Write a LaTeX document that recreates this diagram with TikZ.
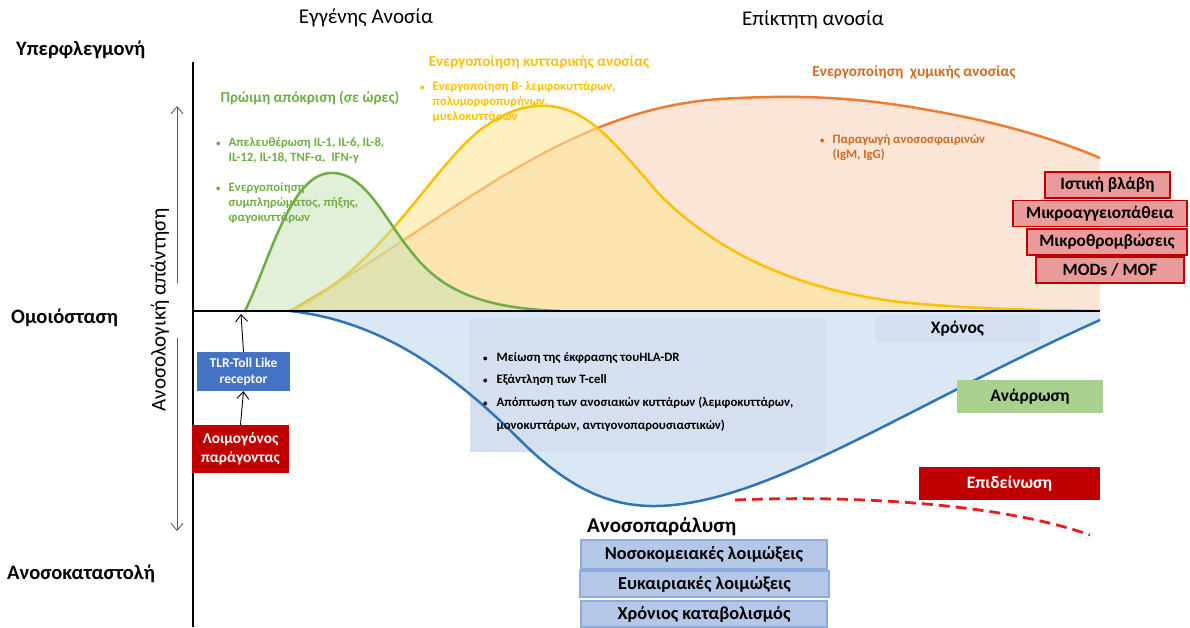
\documentclass[tikz,border=0pt]{standalone}
\usepackage{fontspec}
\setmainfont{Carlito}
\usetikzlibrary{positioning,arrows.meta}
\definecolor{grline}{HTML}{70AD47}
\definecolor{grfill}{HTML}{C5E0B4}
\definecolor{yeline}{HTML}{FFC000}
\definecolor{yefill}{HTML}{FFE699}
\definecolor{orline}{HTML}{ED7D31}
\definecolor{ortext}{HTML}{D06A22}
\definecolor{orfill}{HTML}{FBE5D6}
\definecolor{blline}{HTML}{2E75B6}
\definecolor{blfill}{HTML}{DAE8F5}
\definecolor{blbox}{HTML}{D6DFF0}
\definecolor{darkred}{HTML}{C00000}
\definecolor{salmon}{HTML}{E99A9A}
\definecolor{tlrblue}{HTML}{4472C4}
\definecolor{infbox}{HTML}{B4C7E7}
\definecolor{infline}{HTML}{8FAADC}
\definecolor{recgreen}{HTML}{A9D18E}
\definecolor{dashred}{HTML}{E3201B}
\newcommand{\bu}{{\fontsize{9}{9}\selectfont•}}

\begin{document}
\begin{tikzpicture}[
  x=1pt, y=-1pt,
  axlab/.style={font=\bfseries\fontsize{20.5}{22}\selectfont, anchor=west, inner sep=0pt},
  title/.style={font=\fontsize{21}{23}\selectfont, inner sep=0pt},
  header/.style={font=\bfseries\fontsize{15.2}{17}\selectfont, inner sep=0pt},
  bul/.style={font=\bfseries\fontsize{12.7}{15}\selectfont, anchor=north west,
              inner sep=0pt, align=left},
  dmgbox/.style={draw=darkred, line width=1.8pt, fill=salmon, inner sep=0pt,
                 minimum height=26pt, font=\bfseries\fontsize{17.3}{19}\selectfont},
  infbox/.style={draw=infline, line width=1.5pt, fill=infbox, inner sep=0pt,
                 minimum width=246pt, font=\bfseries\fontsize{18.3}{20}\selectfont},
  flatbox/.style={inner sep=0pt, font=\bfseries\fontsize{17.5}{19}\selectfont},
  axis/.style={line width=2.5pt, black},
  barb/.style={-{Straight Barb[length=7pt,width=12pt]}, line width=0.9pt}
]
\useasboundingbox (0,0) rectangle (1190,627);

% orange: humoral response
\fill[orfill] (290,311) .. controls (450,220) and (560,110) .. (720,99)
  .. controls (820,93) and (880,100) .. (960,116)
  .. controls (1020,128) and (1070,145) .. (1100,158) -- (1100,311) -- cycle;
\draw[orline, line width=2.5pt] (290,311) .. controls (450,220) and (560,110) .. (720,99)
  .. controls (820,93) and (880,100) .. (960,116)
  .. controls (1020,128) and (1070,145) .. (1100,158);

% yellow: cellular response
\fill[yefill, opacity=0.6] (290,311) .. controls (380,270) and (430,170) .. (480,130)
  .. controls (510,108) and (530,105) .. (548,106)
  .. controls (590,108) and (620,150) .. (660,195)
  .. controls (720,255) and (800,290) .. (900,302)
  .. controls (980,310) and (1050,310) .. (1100,311) -- cycle;
\draw[yeline, line width=2.5pt] (290,311) .. controls (380,270) and (430,170) .. (480,130)
  .. controls (510,108) and (530,105) .. (548,106)
  .. controls (590,108) and (620,150) .. (660,195)
  .. controls (720,255) and (800,290) .. (900,302)
  .. controls (980,310) and (1050,310) .. (1100,311);

% green: early response
\fill[grfill, opacity=0.5] (245,311) .. controls (270,260) and (290,175) .. (330,173)
  .. controls (365,171) and (385,220) .. (410,250)
  .. controls (440,290) and (480,308) .. (560,311) -- cycle;
\draw[grline, line width=2.5pt] (245,311) .. controls (270,260) and (290,175) .. (330,173)
  .. controls (365,171) and (385,220) .. (410,250)
  .. controls (440,290) and (480,308) .. (560,311);

% blue: immunosuppression
\fill[blfill] (290,311) .. controls (370,320) and (440,360) .. (520,440)
  .. controls (570,490) and (610,505) .. (650,506)
  .. controls (760,508) and (900,410) .. (1100,320) -- (1100,311) -- cycle;
\node[fill=blbox, minimum width=355pt, minimum height=134pt, inner sep=0pt] (hlabox) at (647.5,385) {};
\draw[blline, line width=2.5pt] (290,311) .. controls (370,320) and (440,360) .. (520,440)
  .. controls (570,490) and (610,505) .. (650,506)
  .. controls (760,508) and (900,410) .. (1100,320);

% worsening
\draw[dashred, line width=2.8pt, dash pattern=on 11pt off 6pt]
  (735,500) .. controls (850,495) and (1000,503) .. (1090,535);

% axes
\draw[axis] (193,62) -- (193,627);
\draw[axis] (193,311) -- (1100,311);

% side labels
\node[axlab] (hyper) at (16,50) {Υπερφλεγμονή};
\node[axlab] (homeo) at (11,318) {Ομοιόσταση};
\node[axlab] (suppr) at (7,574) {Ανοσοκαταστολή};
\node[title, rotate=90] (resp) at (160,310) {Ανοσολογική απάντηση};
\coordinate (upS) at (177,283);
\coordinate (upE) at (177,106);
\coordinate (dnS) at (177,338);
\coordinate (dnE) at (177,531);
\draw[barb, gray!70!black] (upS) -- (upE);
\draw[barb, gray!70!black] (dnS) -- (dnE);

% titles
\node[title] (innate) at (366,18) {Εγγένης Ανοσία};
\node[title] (acquired) at (813,20) {Επίκτητη ανοσία};

% curve headers and bullets
\node[header, text=grline] (early) at (310,98) {Πρώιμη απόκριση (σε ώρες)};
\node[bul, text=grline] (earlylist) at (216,136) {\begin{tabular}{@{}l@{\hspace{8pt}}l@{}}
  \bu & Απελευθέρωση IL-1, IL-6, IL-8,\\
      & IL-12, IL-18, TNF-α,\ \ IFN-γ\\[15pt]
  \bu & Ενεργοποίηση\\
      & συμπληρώματος, πήξης,\\
      & φαγοκυττάρων
\end{tabular}};
\node[header, text=yeline] (cellular) at (539,62) {Ενεργοποίηση κυτταρικής ανοσίας};
\node[bul, text=yeline] (cellist) at (420,80) {\begin{tabular}{@{}l@{\hspace{8pt}}l@{}}
  \bu & Ενεργοποίηση Β- λεμφοκυττάρων,\\
      & πολυμορφοπυρήνων,\\
      & μυελοκυττάρων
\end{tabular}};
\node[header, text=ortext] (humoral) at (914,72) {Ενεργοποίηση\ \ χυμικής ανοσίας};
\node[bul, text=ortext] (humlist) at (820,133) {\begin{tabular}{@{}l@{\hspace{8pt}}l@{}}
  \bu & Παραγωγή ανοσοσφαιρινών\\
      & (IgM, IgG)
\end{tabular}};

% suppression bullets
\node[bul, font=\bfseries\fontsize{12.8}{22.7}\selectfont] (hlalist) at (483,345) {\begin{tabular}{@{}l@{\hspace{9pt}}l@{}}
  \bu & Μείωση της έκφρασης τουHLA-DR\\
  \bu & Εξάντληση των T-cell\\
  \bu & Απόπτωση των ανοσιακών κυττάρων (λεμφοκυττάρων,\\
      & μονοκυττάρων, αντιγονοπαρουσιαστικών)
\end{tabular}};

% organ damage boxes
\node[dmgbox, minimum width=125pt] (tissue) at (1107.5,185) {Ιστική βλάβη};
\node[dmgbox, minimum width=174pt] (micro) at (1100,213.5) {Μικροαγγειοπάθεια};
\node[dmgbox, minimum width=160pt] (thromb) at (1107,242) {Μικροθρομβώσεις};
\node[dmgbox, minimum width=148pt] (mods) at (1110,270) {MODs / MOF};

% time, outcome boxes
\node[flatbox, fill=blbox, minimum width=165pt, minimum height=27pt] (time) at (957.5,328.5) {Χρόνος};
\node[flatbox, fill=recgreen, minimum width=146pt, minimum height=33pt] (recov) at (1030,396.5) {Ανάρρωση};
\node[flatbox, fill=darkred, text=white, minimum width=181pt, minimum height=33pt] (worse) at (1009.5,483.5) {Επιδείνωση};

% pathogen -> receptor
\node[flatbox, fill=tlrblue, text=white, align=center, minimum width=93pt, minimum height=39pt,
      font=\bfseries\fontsize{13.5}{16}\selectfont] (tlr) at (243.5,371.5) {TLR-Toll Like\\receptor};
\node[flatbox, fill=darkred, text=white, align=center, minimum width=97pt, minimum height=48pt,
      font=\bfseries\fontsize{15.3}{19}\selectfont] (agent) at (240.5,449) {Λοιμογόνος\\παράγοντας};
\coordinate (tlrtop) at (241,314);
\draw[barb] (tlr.north) -- (tlrtop);
\draw[barb] (agent.north) -- (tlr.south);

% immunoparalysis
\node[axlab, font=\bfseries\fontsize{21}{23}\selectfont] (paral) at (587,527) {Ανοσοπαράλυση};
\node[infbox, minimum height=29pt] (nosoc) at (704,554.5) {Νοσοκομειακές λοιμώξεις};
\node[infbox, minimum width=249pt, minimum height=26pt] (opport) at (704.5,584) {Ευκαιριακές λοιμώξεις};
\node[infbox, minimum height=26pt] (catab) at (704,614) {Χρόνιος καταβολισμός};
\end{tikzpicture}
\end{document}
